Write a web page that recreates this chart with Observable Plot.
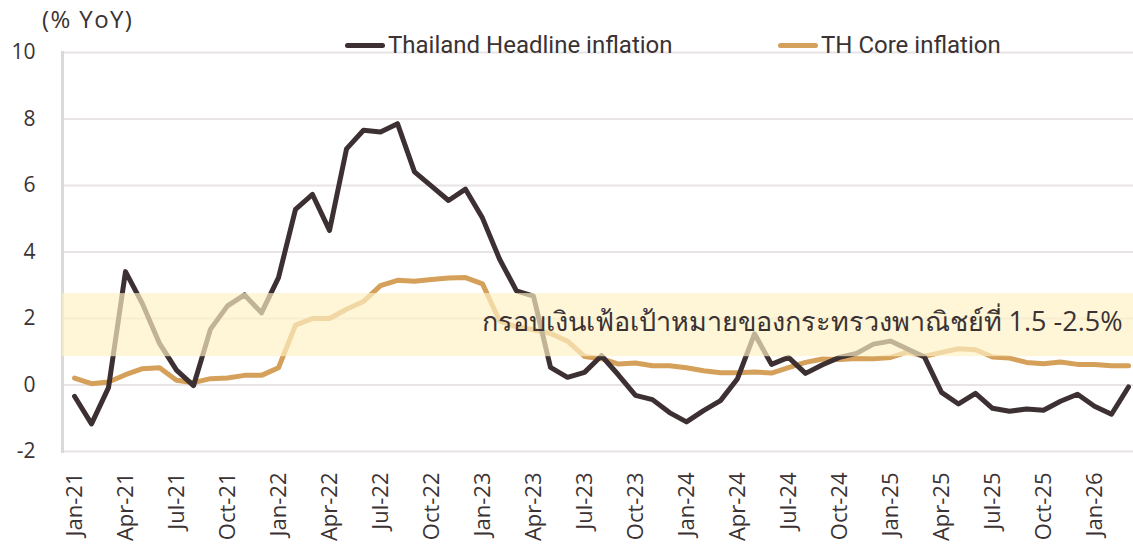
<!DOCTYPE html>
<html><head><meta charset="utf-8">
<script src="https://cdn.jsdelivr.net/npm/d3@7"></script>
<script src="https://cdn.jsdelivr.net/npm/@observablehq/plot@0.6"></script>
<style>
body{margin:0;background:#fff;overflow:hidden;}
#wrap{position:relative;width:1133px;height:544px;overflow:hidden;background:#fff;}
#unit{position:absolute;left:42px;top:4px;font-family:"Open Sans";font-size:24px;letter-spacing:1.4px;color:#3a3233;line-height:30px;white-space:nowrap;}
.leg{position:absolute;top:30px;height:30px;line-height:30px;font-family:Roboto;font-size:24px;color:#3a3233;display:flex;align-items:center;white-space:nowrap;}
.sw{display:inline-block;width:40px;height:5px;border-radius:3px;margin-right:3px;}
</style></head><body><div id="wrap"></div>
<script>
const months = ["Jan-21","Feb-21","Mar-21","Apr-21","May-21","Jun-21","Jul-21","Aug-21","Sep-21","Oct-21","Nov-21","Dec-21",
"Jan-22","Feb-22","Mar-22","Apr-22","May-22","Jun-22","Jul-22","Aug-22","Sep-22","Oct-22","Nov-22","Dec-22",
"Jan-23","Feb-23","Mar-23","Apr-23","May-23","Jun-23","Jul-23","Aug-23","Sep-23","Oct-23","Nov-23","Dec-23",
"Jan-24","Feb-24","Mar-24","Apr-24","May-24","Jun-24","Jul-24","Aug-24","Sep-24","Oct-24","Nov-24","Dec-24",
"Jan-25","Feb-25","Mar-25","Apr-25","May-25","Jun-25","Jul-25","Aug-25","Sep-25","Oct-25","Nov-25","Dec-25",
"Jan-26","Feb-26","Mar-26"];
const headline = [-0.34,-1.17,-0.08,3.41,2.44,1.25,0.45,-0.02,1.68,2.38,2.71,2.17,
3.23,5.28,5.73,4.65,7.10,7.66,7.61,7.86,6.41,5.98,5.55,5.89,
5.02,3.79,2.83,2.67,0.53,0.23,0.38,0.88,0.30,-0.31,-0.44,-0.83,
-1.11,-0.77,-0.47,0.19,1.54,0.62,0.83,0.35,0.61,0.83,0.95,1.23,
1.32,1.08,0.84,-0.22,-0.57,-0.25,-0.70,-0.79,-0.72,-0.76,-0.49,-0.28,
-0.64,-0.88,-0.06];
const core = [0.21,0.04,0.09,0.31,0.49,0.52,0.14,0.07,0.19,0.21,0.29,0.29,
0.52,1.80,2.00,2.00,2.28,2.51,2.99,3.15,3.12,3.17,3.22,3.23,
3.04,1.93,1.75,1.66,1.55,1.32,0.86,0.79,0.63,0.66,0.58,0.58,
0.52,0.43,0.37,0.37,0.39,0.36,0.52,0.68,0.78,0.77,0.80,0.79,
0.83,0.99,0.86,0.98,1.09,1.06,0.84,0.81,0.68,0.64,0.69,0.62,
0.62,0.58,0.58];
const tickMonths = ["Jan-21","Apr-21","Jul-21","Oct-21","Jan-22","Apr-22","Jul-22","Oct-22","Jan-23","Apr-23","Jul-23","Oct-23","Jan-24","Apr-24","Jul-24","Oct-24","Jan-25","Apr-25","Jul-25","Oct-25","Jan-26"];
const yTicks = [-2,0,2,4,6,8,10];
const band = [0.85, 2.75];
const bandLabel = "กรอบเงินเฟ้อเป้าหมายของกระทรวงพาณิชย์ที่ 1.5 -2.5%";
const seriesNames = ["Thailand Headline inflation","TH Core inflation"];
const seriesColors = ["#3d3032","#d4a05a"];
const unitLabel = "(% YoY)";

const rows = months.map((m,i)=>({month:m, headline:headline[i], core:core[i]}));

const chart = Plot.plot({
  width:1133, height:544,
  marginTop:52, marginBottom:93, marginLeft:62, marginRight:-7,
  style:{fontFamily:"'Open Sans'", fontSize:"21px", color:"#3a3233", background:"transparent", overflow:"hidden"},
  x:{type:"point", domain:months, padding:0.5, label:null},
  y:{domain:[-2,10], label:null},
  marks:[
    Plot.ruleY(yTicks, {stroke:"#e8e3e5", strokeWidth:2}),
    Plot.frame({anchor:"left", stroke:"#d9d9d9", strokeWidth:3}),
    Plot.axisX({ticks:tickMonths, tickSize:0, tickRotate:-90, tickPadding:21, fontSize:22, fill:"#3a3233", label:null}),
    Plot.axisY({ticks:yTicks, tickSize:0, tickPadding:27, fontSize:21, fill:"#3a3233", tickFormat:d=>String(d), label:null}),
    Plot.line(rows, {x:"month", y:"core", stroke:seriesColors[1], strokeWidth:5, strokeLinejoin:"round"}),
    Plot.line(rows, {x:"month", y:"headline", stroke:seriesColors[0], strokeWidth:5, strokeLinejoin:"round"}),
    Plot.rect([band], {y1:d=>d[0], y2:d=>d[1], fill:"#fff2c6", fillOpacity:0.68}),
    Plot.text([bandLabel], {y:(band[0]+band[1])/2, frameAnchor:"right", textAnchor:"end", dx:-18, dy:-3, fontSize:27, fill:"#3a3233"})
  ]
});
const wrap = document.getElementById("wrap");
wrap.appendChild(chart);
const u = document.createElement("div"); u.id="unit"; u.textContent=unitLabel; wrap.appendChild(u);
const legX = [345, 778];
seriesNames.forEach((n,i)=>{
  const d = document.createElement("div"); d.className="leg"; d.style.left=legX[i]+"px";
  const s = document.createElement("span"); s.className="sw"; s.style.background=seriesColors[i];
  d.appendChild(s); d.appendChild(document.createTextNode(n)); wrap.appendChild(d);
});
</script></body></html>
